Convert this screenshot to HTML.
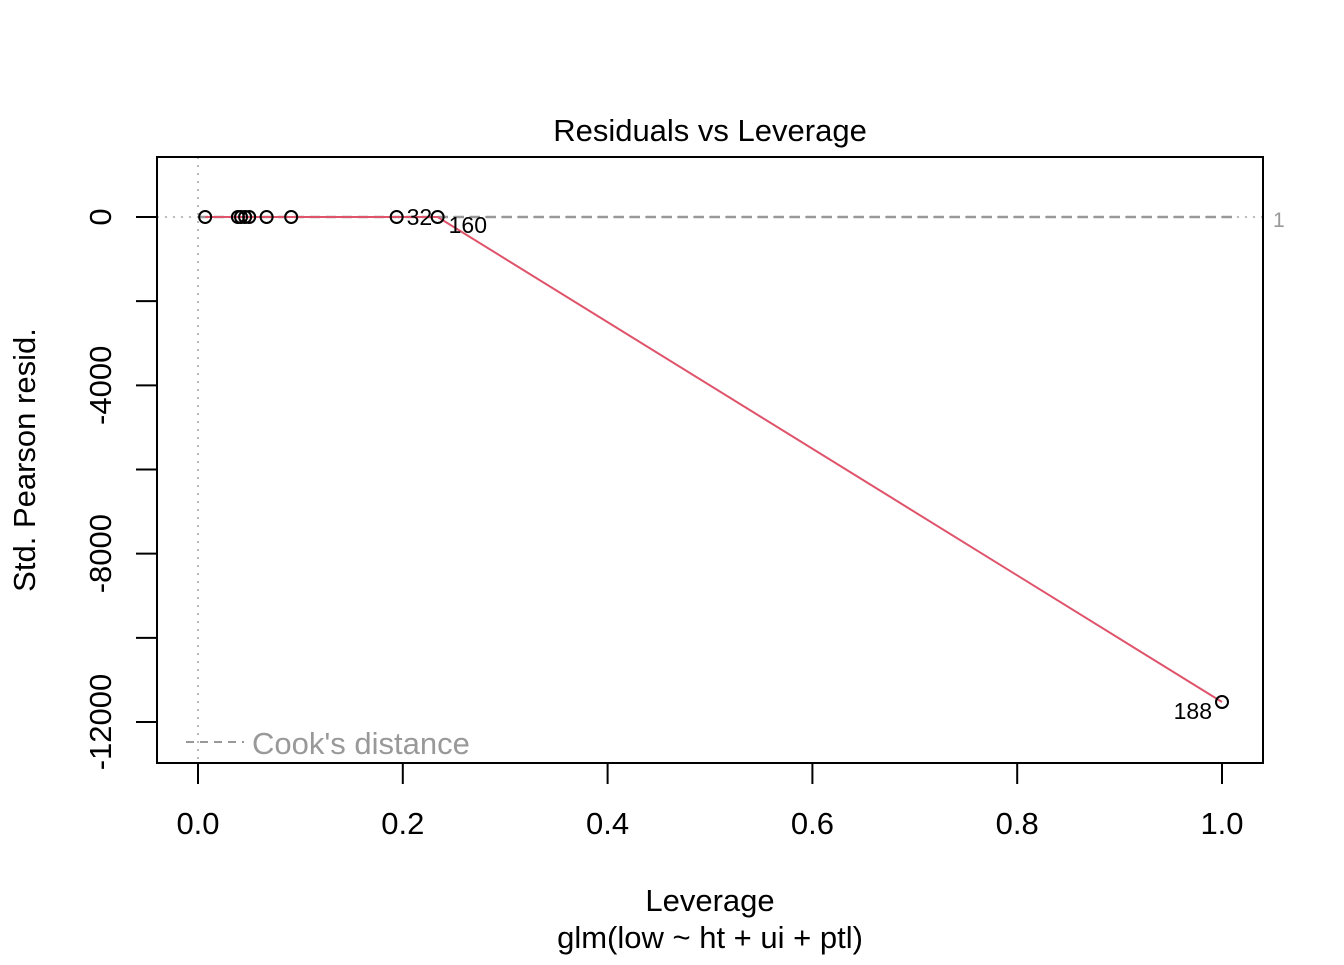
<!DOCTYPE html>
<html><head><meta charset="utf-8"><style>
body{margin:0;background:#fff;}
svg text{font-family:"Liberation Sans",Arial,sans-serif;}
</style></head><body>
<svg id="chart" width="1344" height="960" xmlns="http://www.w3.org/2000/svg">
<rect width="1344" height="960" fill="#fff"/>
<text x="710" y="141" font-size="31" text-anchor="middle">Residuals vs Leverage</text>
<text x="710" y="911" font-size="31" text-anchor="middle">Leverage</text>
<text x="710" y="948" font-size="31" text-anchor="middle">glm(low ~ ht + ui + ptl)</text>
<text transform="translate(35,460) rotate(-90)" font-size="31" text-anchor="middle">Std. Pearson resid.</text>
<g id="grid"></g>
<g id="axes"></g>
<g id="marks"></g>
<rect x="157" y="157" width="1106" height="606" fill="none" stroke="#000" stroke-width="2"/>
<line x1="186" y1="742" x2="244" y2="742" stroke="#999" stroke-width="2" stroke-dasharray="8,6"/>
<text x="252" y="754" font-size="31" fill="#999">Cook's distance</text>
</svg>
<script>
const leverage=[0.007,0.039,0.042,0.046,0.050,0.067,0.091,0.194,0.234,1.0];
const resid=[0,0,0,0,0,0,0,0,0,-11525];
const labels=["","","","","","","","32","160","188"];
const smoothX=[0.007,0.05,0.091,0.194,0.234,1.0];
const smoothY=[0,0,0,0,0,-11525];
const xTicks=[0,0.2,0.4,0.6,0.8,1.0];
const xTickLabels=["0.0","0.2","0.4","0.6","0.8","1.0"];
const yTicks=[0,-2000,-4000,-6000,-8000,-10000,-12000];
const yTickLabels=["0","","-4000","","-8000","","-12000"];
const NS="http://www.w3.org/2000/svg";
const sx=v=>198+v*1024;
const sy=v=>217-v*0.042083;
function mk(tag,attrs,parent,text){const e=document.createElementNS(NS,tag);for(const k in attrs)e.setAttribute(k,attrs[k]);if(text!==undefined)e.textContent=text;document.getElementById(parent).appendChild(e);return e;}
let e=mk('line',{x1:157,x2:1263,y1:sy(0),y2:sy(0),stroke:'#bbb','stroke-width':2,'stroke-dasharray':'2,6'},'grid');


e=mk('line',{x1:sx(0),x2:sx(0),y1:157,y2:763,stroke:'#bbb','stroke-width':2,'stroke-dasharray':'2,6'},'grid');


e=mk('line',{x1:sx(0),x2:sx(1.01),y1:sy(0),y2:sy(0),stroke:'#999','stroke-width':2.5,'stroke-dasharray':'10,6'},'grid');


e=mk('text',{x:1273,y:227,'font-size':21,fill:'#999'},'grid','1');


e=mk('line',{x1:sx(0),x2:sx(1),y1:763,y2:763,stroke:'#000','stroke-width':2},'axes');


xTicks.forEach((t,i)=>{
 let l=mk('line',{x1:sx(t),x2:sx(t),y1:763,y2:784,stroke:'#000','stroke-width':2},'axes');
 
 
 let tx=mk('text',{x:sx(t),y:834,'font-size':31,'text-anchor':'middle'},'axes',xTickLabels[i]);
 
 
});
e=mk('line',{x1:157,x2:157,y1:sy(0),y2:sy(-12000),stroke:'#000','stroke-width':2},'axes');


yTicks.forEach((t,i)=>{
 let l=mk('line',{x1:136,x2:157,y1:sy(t),y2:sy(t),stroke:'#000','stroke-width':2},'axes');
 
 
 if(yTickLabels[i]){
  let tx=mk('text',{transform:`translate(111,${sy(t)}) rotate(-90)`,'font-size':31,'text-anchor':'middle'},'axes',yTickLabels[i]);
  
  
 }
});
e=mk('polyline',{points:smoothX.map((x,i)=>sx(x)+','+sy(smoothY[i])).join(' '),fill:'none',stroke:'#DF536B','stroke-width':2},'marks');


leverage.forEach((x,i)=>{
 let c=mk('circle',{cx:sx(x),cy:sy(resid[i]),r:6,fill:'none',stroke:'#000','stroke-width':2},'marks');
 
 
 if(labels[i]){
  let px=sx(x),py=sy(resid[i]);
  let a={x:px+10,y:py+8,'font-size':23};
  if(labels[i]==="160"){a={x:px+11,y:py+16,'font-size':23};}
  if(labels[i]==="188"){a={x:px-10,y:py+17,'font-size':23,'text-anchor':'end'};}
  let t=mk('text',a,'marks',labels[i]);
  
  
 }
});
</script>
</body></html>
